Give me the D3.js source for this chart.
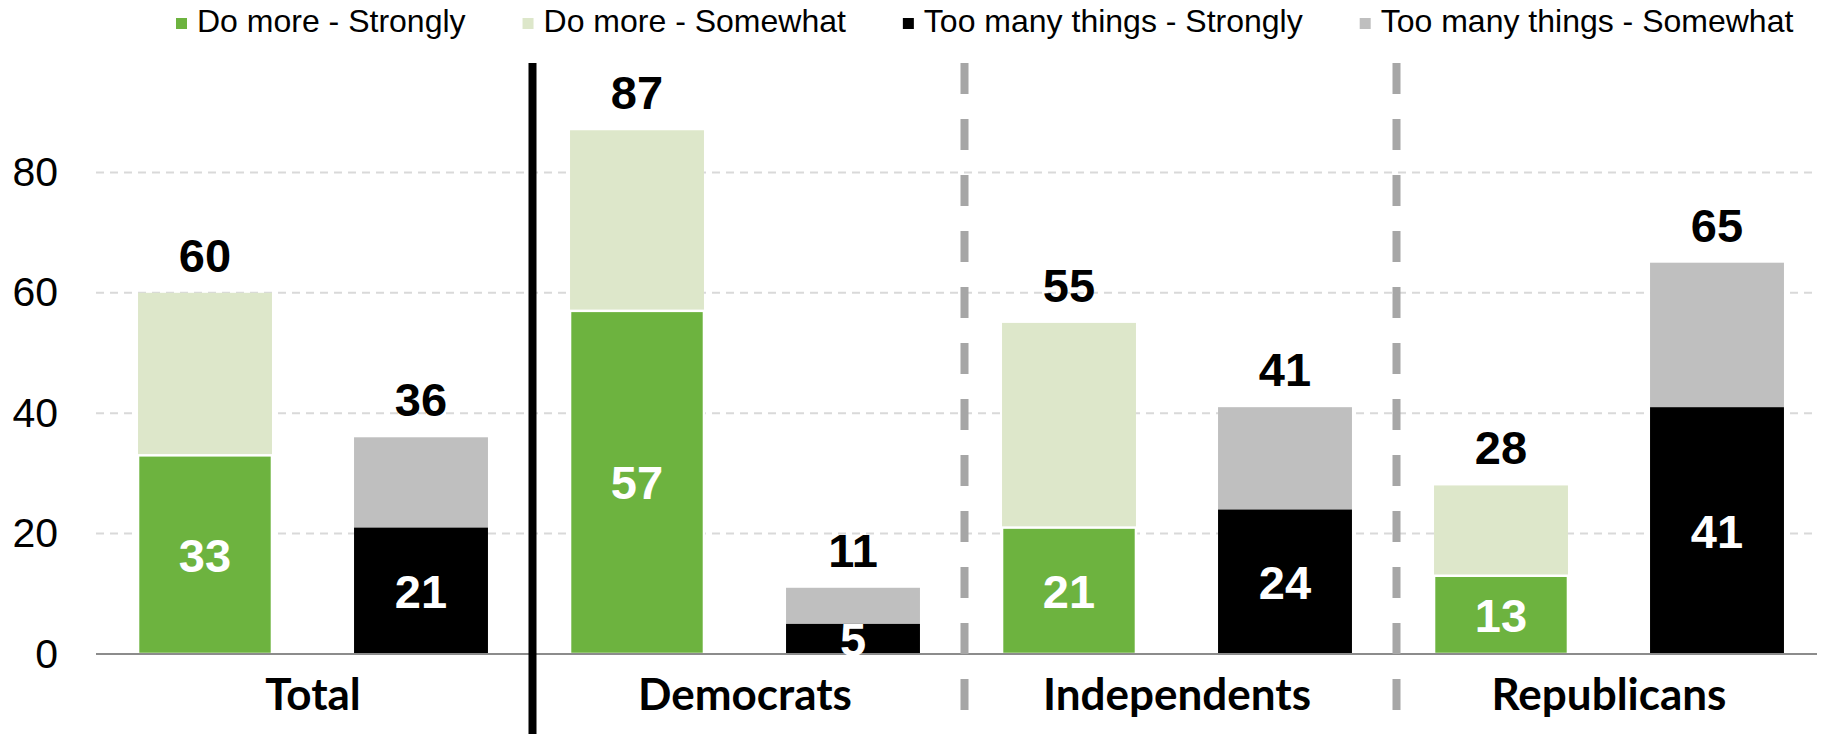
<!DOCTYPE html>
<html>
<head>
<meta charset="utf-8">
<script src="https://cdn.jsdelivr.net/npm/d3@7"></script>
<style>
  html, body { margin: 0; padding: 0; background: #fff; }
  svg { display: block; }
</style>
</head>
<body>
<script>
// Survey groups and the two sides of the question
const groups = ["Total", "Democrats", "Independents", "Republicans"];
const sides = ["doMore", "tooMany"];

// Percentages per group
const doMoreStrongly   = [33, 57, 21, 13];
const doMoreSomewhat   = [27, 30, 34, 15];
const tooManyStrongly  = [21, 5, 24, 41];
const tooManySomewhat  = [15, 6, 17, 24];

// Legend entries and y-axis ticks
const legendLabels = [
  "Do more - Strongly",
  "Do more - Somewhat",
  "Too many things - Strongly",
  "Too many things - Somewhat"
];
const yTicks = [0, 20, 40, 60, 80];

const colors = {
  doMoreStrong: "#6db33f",
  doMoreSome: "#dde7ca",
  tooManyStrong: "#000000",
  tooManySome: "#bfbfbf"
};
const legendColors = [colors.doMoreStrong, colors.doMoreSome, colors.tooManyStrong, colors.tooManySome];

const W = 1836, H = 734;
const svg = d3.select("body").append("svg").attr("width", W).attr("height", H);

const y = d3.scaleLinear().domain([0, 100]).range([654, 52]);
const x0 = d3.scaleBand().domain(groups).range([97, 1825]);
const x1 = d3.scaleBand().domain(sides).range([0, x0.bandwidth()])
  .paddingInner(0.38).paddingOuter(0.19);

const gridLeft = 96, gridRight = 1817;

// Horizontal dashed gridlines
svg.append("g").selectAll("line")
  .data(yTicks.filter(d => d > 0))
  .join("line")
  .attr("x1", gridLeft).attr("x2", gridRight)
  .attr("y1", d => y(d)).attr("y2", d => y(d))
  .attr("stroke", "#d9d9d9").attr("stroke-width", 2)
  .attr("stroke-dasharray", "8,6");

// Y-axis labels
const yAxis = d3.axisLeft(y).tickValues(yTicks).tickSize(0).tickPadding(0);
const yG = svg.append("g").attr("transform", "translate(58,0)").call(yAxis);
yG.select(".domain").remove();
yG.selectAll("text")
  .attr("font-family", "'Liberation Sans', Arial, sans-serif")
  .attr("font-size", 41)
  .attr("fill", "#000");

// Build stacked rows
const rows = [];
groups.forEach((g, i) => {
  rows.push({ group: g, side: "doMore", strong: doMoreStrongly[i], some: doMoreSomewhat[i],
              cStrong: colors.doMoreStrong, cSome: colors.doMoreSome, outline: true });
  rows.push({ group: g, side: "tooMany", strong: tooManyStrongly[i], some: tooManySomewhat[i],
              cStrong: colors.tooManyStrong, cSome: colors.tooManySome, outline: false });
});
rows.forEach(r => { r.total = r.strong + r.some; r.x = x0(r.group) + x1(r.side); });

const bw = x1.bandwidth();
const bars = svg.append("g");

// "Somewhat" segments stacked on top
bars.selectAll("rect.some")
  .data(rows).join("rect").attr("class", "some")
  .attr("x", d => d.x).attr("width", bw)
  .attr("y", d => y(d.total))
  .attr("height", d => y(d.strong) - y(d.total))
  .attr("fill", d => d.cSome);

// "Strongly" segments at the base
bars.selectAll("rect.strong")
  .data(rows).join("rect").attr("class", "strong")
  .attr("x", d => d.x).attr("width", bw)
  .attr("y", d => y(d.strong))
  .attr("height", d => y(0) - y(d.strong))
  .attr("fill", d => d.cStrong)
  .attr("stroke", d => d.outline ? "#fff" : "none")
  .attr("stroke-width", 2.5);

// Baseline
svg.append("line")
  .attr("x1", gridLeft).attr("x2", gridRight)
  .attr("y1", y(0)).attr("y2", y(0))
  .attr("stroke", "#8c8c8c").attr("stroke-width", 2);

// Group dividers
groups.slice(1).forEach((g, i) => {
  const xd = x0(g) + 3.5;
  const line = svg.append("line")
    .attr("x1", xd).attr("x2", xd)
    .attr("y1", 63).attr("y2", H)
    .attr("stroke-width", 8);
  if (i === 0) {
    line.attr("stroke", "#000");
  } else {
    line.attr("stroke", "#a6a6a6").attr("stroke-dasharray", "31,25");
  }
});

const valueFont = "'Liberation Sans', Arial, sans-serif";

// Net totals above each bar
svg.append("g").selectAll("text")
  .data(rows).join("text")
  .attr("x", d => d.x + bw / 2)
  .attr("y", d => y(d.total) - 21)
  .attr("text-anchor", "middle")
  .attr("font-family", valueFont)
  .attr("font-weight", "bold")
  .attr("font-size", 47)
  .attr("fill", "#000")
  .text(d => d.total);

// "Strongly" values inside the base segment
svg.append("g").selectAll("text")
  .data(rows).join("text")
  .attr("x", d => d.x + bw / 2)
  .attr("y", d => (y(0) + y(d.strong)) / 2)
  .attr("dy", "0.36em")
  .attr("text-anchor", "middle")
  .attr("font-family", valueFont)
  .attr("font-weight", "bold")
  .attr("font-size", 47)
  .attr("fill", "#fff")
  .text(d => d.strong);

// Group names
svg.append("g").selectAll("text")
  .data(groups).join("text")
  .attr("x", d => x0(d) + x0.bandwidth() / 2)
  .attr("y", 710)
  .attr("text-anchor", "middle")
  .attr("font-family", "Lato, 'Open Sans', sans-serif")
  .attr("font-weight", "bold")
  .attr("font-size", 44)
  .attr("fill", "#000")
  .text(d => d);

// Legend laid out left to right
const legend = svg.append("g");
let lx = 176;
legendLabels.forEach((label, i) => {
  legend.append("rect")
    .attr("x", lx).attr("y", 18).attr("width", 11).attr("height", 11)
    .attr("fill", legendColors[i]);
  const t = legend.append("text")
    .attr("x", lx + 21).attr("y", 32)
    .attr("font-family", "'Liberation Sans', Arial, sans-serif")
    .attr("font-size", 32)
    .attr("fill", "#000")
    .text(label);
  lx += 21 + t.node().getComputedTextLength() + 57;
});
</script>
</body>
</html>
